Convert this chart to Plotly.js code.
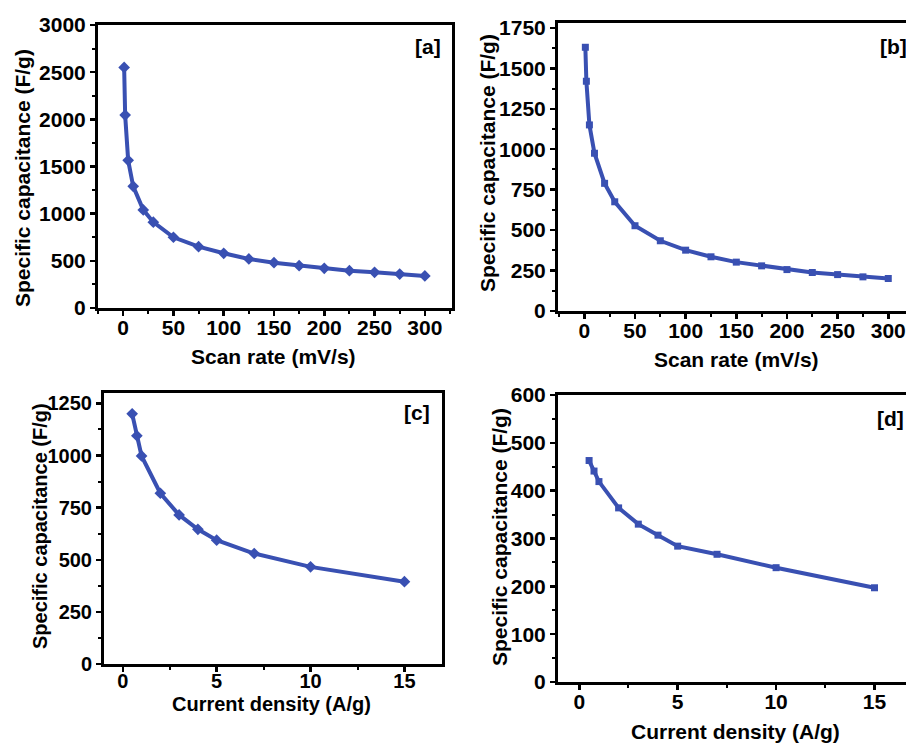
<!DOCTYPE html>
<html>
<head>
<meta charset="utf-8">
<script src="https://cdn.plot.ly/plotly-3.0.1.min.js"></script>
<style>html,body{margin:0;padding:0;background:#fff;overflow:hidden}#chart{width:906px;height:746px}</style>
</head>
<body>
<div id="chart"></div>
<script>
// Panel a: scan rate vs specific capacitance
const scanRateA = [1, 2, 5, 10, 20, 30, 50, 75, 100, 125, 150, 175, 200, 225, 250, 275, 300];
const capA = [2550, 2045, 1565, 1290, 1040, 910, 750, 650, 580, 520, 480, 449, 421, 396, 378, 360, 340];
// Panel b
const scanRateB = [1, 2, 5, 10, 20, 30, 50, 75, 100, 125, 150, 175, 200, 225, 250, 275, 300];
const capB = [1630, 1420, 1150, 975, 789, 675, 527, 434, 376, 335, 302, 279, 256, 238, 225, 211, 201];
// Panel c: current density vs specific capacitance
const currentC = [0.5, 0.75, 1, 2, 3, 4, 5, 7, 10, 15];
const capC = [1200, 1095, 998, 819, 715, 646, 594, 530, 466, 395];
// Panel d
const currentD = [0.5, 0.75, 1, 2, 3, 4, 5, 7, 10, 15];
const capD = [463, 441, 419, 364, 330, 307, 284, 267, 239, 197];

const panelLabels = ['[a]', '[b]', '[c]', '[d]'];
const yTitle = 'Specific capacitance (F/g)';
const xTitleScan = 'Scan rate (mV/s)';
const xTitleCurrent = 'Current density (A/g)';

const blue = '#3950b2';
const FONT = 'Liberation Sans, Arial, sans-serif';
const W = 906, H = 746;

function trace(x, y, sym, size, xa, ya) {
  return {x: x, y: y, type: 'scatter', mode: 'lines+markers', xaxis: xa, yaxis: ya,
    line: {color: blue, width: 4}, marker: {symbol: sym, size: size, color: blue},
    showlegend: false, hoverinfo: 'x+y'};
}

const data = [
  trace(scanRateA, capA, 'diamond', 9, 'x', 'y'),
  trace(scanRateB, capB, 'square', 7, 'x2', 'y2'),
  trace(currentC, capC, 'diamond', 9, 'x3', 'y3'),
  trace(currentD, capD, 'square', 7, 'x4', 'y4')
];

function ax(domain, range, dtick, minorDtick, anchor, mirror, tickSize, standoff) {
  return {domain: domain, range: range, dtick: dtick, tick0: 0, anchor: anchor,
    showgrid: false, zeroline: false, showline: true, linecolor: '#000', linewidth: 3,
    mirror: mirror, ticks: 'outside', ticklen: 5, tickwidth: 2.5, tickcolor: '#000',
    minor: {ticks: 'outside', dtick: minorDtick, ticklen: 3, tickwidth: 2, tickcolor: '#000', showgrid: false},
    tickfont: {family: FONT, size: tickSize, color: '#000', weight: 'bold'},
    ticklabelstandoff: standoff || 0,
    ticklabeloverflow: 'allow',
    fixedrange: true, automargin: false};
}

function label(text, px, py, size, angle) {
  return {text: '<b>' + text + '</b>', xref: 'paper', yref: 'paper', x: px / W, y: 1 - py / H,
    xanchor: 'center', yanchor: 'middle', showarrow: false, textangle: angle || 0,
    font: {family: FONT, size: size, color: '#000'}};
}

const layout = {
  width: W, height: H, margin: {l: 0, r: 0, t: 0, b: 0},
  paper_bgcolor: '#fff', plot_bgcolor: '#fff',
  xaxis: ax([98 / W, 452 / W], [-25, 327], 50, 25, 'y', true, 21, -6),
  yaxis: ax([1 - 308 / H, 1 - 25 / H], [0, 3000], 500, 250, 'x', true, 21, 0),
  xaxis2: ax([558 / W, 1], [-26, 317.5], 50, 25, 'y2', true, 21, -6),
  yaxis2: ax([1 - 311 / H, 1 - 23 / H], [0, 1780], 250, 125, 'x2', false, 21, 0),
  xaxis3: ax([104 / W, 442 / W], [-1, 17], 5, 2.5, 'y3', true, 20, -8),
  yaxis3: ax([1 - 664 / H, 1 - 393 / H], [0, 1300], 250, 125, 'x3', true, 20, 0),
  xaxis4: ax([558 / W, 1], [-1.08, 16.6], 5, 2.5, 'y4', true, 21, -6),
  yaxis4: ax([1 - 682 / H, 1 - 395 / H], [0, 600], 100, 50, 'x4', false, 21, 0),
  annotations: [
    label(panelLabels[0], 428, 46, 21),
    label(panelLabels[1], 893, 46, 21),
    label(panelLabels[2], 417, 412, 21),
    label(panelLabels[3], 890, 418, 21),
    label(xTitleScan, 273.5, 356, 21),
    label(xTitleScan, 736, 359, 21),
    label(xTitleCurrent, 271.7, 704, 20),
    label(xTitleCurrent, 735.8, 731, 21),
    label(yTitle, 22.5, 178.5, 21, -90),
    label(yTitle, 487, 163, 21, -90),
    label(yTitle, 39.5, 526.5, 20, -90),
    label(yTitle, 499.5, 537.5, 21, -90)
  ]
};

Plotly.newPlot('chart', data, layout, {displayModeBar: false, staticPlot: true});
</script>
</body>
</html>
